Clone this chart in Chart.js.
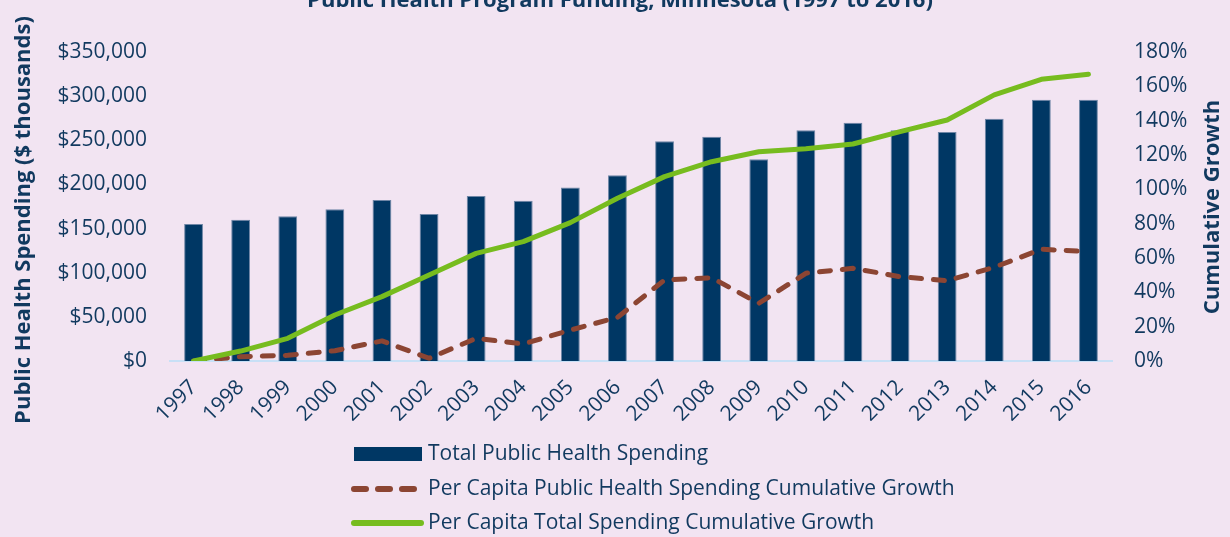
<!DOCTYPE html>
<html>
<head>
<meta charset="utf-8">
<script src="https://cdn.jsdelivr.net/npm/chart.js@4.4.1/dist/chart.umd.min.js"></script>
<style>
html,body{margin:0;padding:0;background:#F2E4F2;overflow:hidden;}
#wrap{position:relative;width:1230px;height:537px;}
</style>
</head>
<body>
<div id="wrap"><canvas id="c" width="1230" height="537"></canvas></div>
<script>
// ---- data ----
const years = ['1997','1998','1999','2000','2001','2002','2003','2004','2005','2006',
               '2007','2008','2009','2010','2011','2012','2013','2014','2015','2016'];
// Total public health spending ($ thousands)
const totalSpending = [155200, 160000, 164000, 172000, 182500, 166500, 187000, 181500, 196500, 210500,
                       249000, 254000, 228500, 261500, 270000, 261500, 259500, 274500, 296000, 296000];
// Per capita public health spending cumulative growth (%)
const phGrowth = [0, 2.5, 3.3, 6.0, 11.7, 1.6, 13.2, 9.9, 18.0, 25.4,
                  47.2, 48.5, 33.6, 51.1, 54.0, 49.1, 46.8, 54.6, 65.1, 63.7];
// Per capita total spending cumulative growth (%)
const totalGrowth = [0, 5.8, 13.2, 26.8, 37.5, 50.1, 62.7, 69.5, 80.6, 94.8,
                     107.4, 116.1, 121.9, 123.7, 126.4, 133.6, 140.4, 155.0, 164.1, 167.0];
const leftTicks = [0, 50000, 100000, 150000, 200000, 250000, 300000, 350000];
const rightTicks = [0, 20, 40, 60, 80, 100, 120, 140, 160, 180];

const titleText = 'Public Health Program Funding, Minnesota (1997 to 2016)';
const leftTitle = 'Public Health Spending ($ thousands)';
const rightTitle = 'Cumulative Growth';
const seriesNames = ['Total Public Health Spending',
                     'Per Capita Public Health Spending Cumulative Growth',
                     'Per Capita Total Spending Cumulative Growth'];

// ---- styles ----
const NAVY_TEXT = '#11395f';
const BAR = '#003764';
const BROWN = '#8C4533';
const GREEN = '#77BC1F';
const FONT = '"Open Sans", Lato, sans-serif';

const decorPlugin = {
  id: 'decor',
  afterDraw(chart) {
    const ctx = chart.ctx;
    ctx.save();
    ctx.fillStyle = NAVY_TEXT;
    // title (partially cut at top as in reference)
    ctx.font = 'bold 22px ' + FONT;
    ctx.textAlign = 'center';
    ctx.textBaseline = 'alphabetic';
    ctx.fillText(titleText, 620, 7);
    // left axis title
    ctx.save();
    ctx.translate(24, 220);
    ctx.rotate(-Math.PI / 2);
    ctx.textBaseline = 'middle';
    ctx.fillText(leftTitle, 0, 0);
    ctx.restore();
    // right axis title
    ctx.save();
    ctx.translate(1213, 207);
    ctx.rotate(-Math.PI / 2);
    ctx.textBaseline = 'middle';
    ctx.fillText(rightTitle, 0, 0);
    ctx.restore();

    // legend
    const ds = chart.data.datasets;
    const order = [2, 1, 0];
    const rows = [454, 489, 523];
    ctx.font = '21px ' + FONT;
    ctx.textAlign = 'left';
    ctx.textBaseline = 'middle';
    order.forEach((di, i) => {
      const d = ds[di];
      const y = rows[i];
      if (d.type === 'bar' || !d.type) {
        ctx.fillStyle = d.backgroundColor;
        ctx.fillRect(354, y - 7, 68, 14);
      } else {
        ctx.save();
        ctx.strokeStyle = d.borderColor;
        ctx.lineWidth = 6;
        ctx.lineCap = 'round';
        if (d.borderDash) ctx.setLineDash([12, 12]);
        ctx.beginPath();
        ctx.moveTo(354, y);
        ctx.lineTo(d.borderDash ? 420 : 421, y);
        ctx.stroke();
        ctx.restore();
      }
      ctx.fillStyle = NAVY_TEXT;
      ctx.fillText(d.label, 428, y);
    });
    ctx.restore();
  }
};

const tickFont = { family: FONT, size: 21 };

new Chart(document.getElementById('c'), {
  type: 'bar',
  data: {
    labels: years,
    datasets: [
      { type: 'line', label: seriesNames[2], data: totalGrowth, yAxisID: 'y1',
        borderColor: GREEN, backgroundColor: GREEN, borderWidth: 5, pointRadius: 0,
        tension: 0, borderCapStyle: 'round', borderJoinStyle: 'round', order: 1 },
      { type: 'line', label: seriesNames[1], data: phGrowth, yAxisID: 'y1',
        borderColor: BROWN, backgroundColor: BROWN, borderWidth: 5, pointRadius: 0,
        borderDash: [11, 12], borderCapStyle: 'round', borderJoinStyle: 'round',
        tension: 0, order: 2 },
      { type: 'bar', label: seriesNames[0], data: totalSpending, yAxisID: 'y',
        backgroundColor: BAR, borderColor: '#6f86a6', borderWidth: 1,
        barPercentage: 0.4, categoryPercentage: 1, order: 3 }
    ]
  },
  options: {
    responsive: false,
    animation: false,
    layout: { padding: { top: 52, left: 40, right: 40, bottom: 116 } },
    plugins: { legend: { display: false }, title: { display: false }, tooltip: { enabled: false } },
    scales: {
      x: {
        offset: true,
        grid: { display: false, drawTicks: false },
        border: { display: true, color: '#C8E0F6', width: 2 },
        ticks: { color: NAVY_TEXT, font: tickFont, minRotation: 45, maxRotation: 45, padding: 14 },
        afterFit: s => { s.height = 60; }
      },
      y: {
        position: 'left',
        min: 0, max: 350000,
        afterBuildTicks: s => { s.ticks = leftTicks.map(v => ({ value: v })); },
        grid: { display: false, drawTicks: false },
        border: { display: false },
        ticks: { color: NAVY_TEXT, font: tickFont, padding: 23,
                 callback: v => '$' + Number(v).toLocaleString('en-US') },
        afterFit: s => { s.width = 130; }
      },
      y1: {
        position: 'right',
        min: 0, max: 180,
        afterBuildTicks: s => { s.ticks = rightTicks.map(v => ({ value: v })); },
        grid: { display: false, drawTicks: false },
        border: { display: false },
        ticks: { color: NAVY_TEXT, font: tickFont, padding: 22,
                 callback: v => v + '%' },
        afterFit: s => { s.width = 1230 - 40 - 1112; }
      }
    }
  },
  plugins: [decorPlugin]
});
</script>
</body>
</html>
